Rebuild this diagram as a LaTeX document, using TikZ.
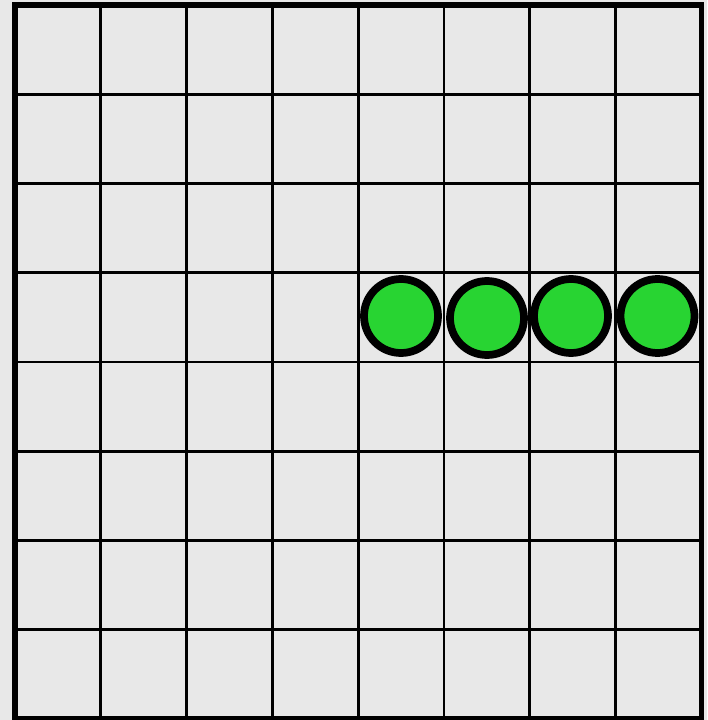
\documentclass[tikz,border=0pt]{standalone}
\usepackage{xcolor}
\definecolor{boardgrey}{RGB}{232,232,232}
\definecolor{stonegreen}{RGB}{40,212,50}
\begin{document}
\begin{tikzpicture}[x=1mm, y=-1mm]
    % Board background
    \fill[boardgrey] (0,0) rectangle (707,720);
    \useasboundingbox (0,0) rectangle (707,720);
    
    % Grid lines
    \foreach \i in {1,...,7} {
        \draw[line width=7.5pt] ({15+\i*85.8},5) -- ({15+\i*85.8},719);
        \draw[line width=7.5pt] (15,{5+\i*89.25}) -- (701.5,{5+\i*89.25});
    }
    
    % Outer frame
    \draw[line width=17pt] (15,5) rectangle (701.5,719);
    
    % Stones in row 4
    \foreach \x/\y [count=\n] in {401/316, 487/318, 571/316, 657.5/316} {
        \node[circle, draw, line width=22pt, fill=stonegreen, minimum size=74mm, inner sep=0pt] (stone\n) at (\x,\y) {};
    }
\end{tikzpicture}
\end{document}
